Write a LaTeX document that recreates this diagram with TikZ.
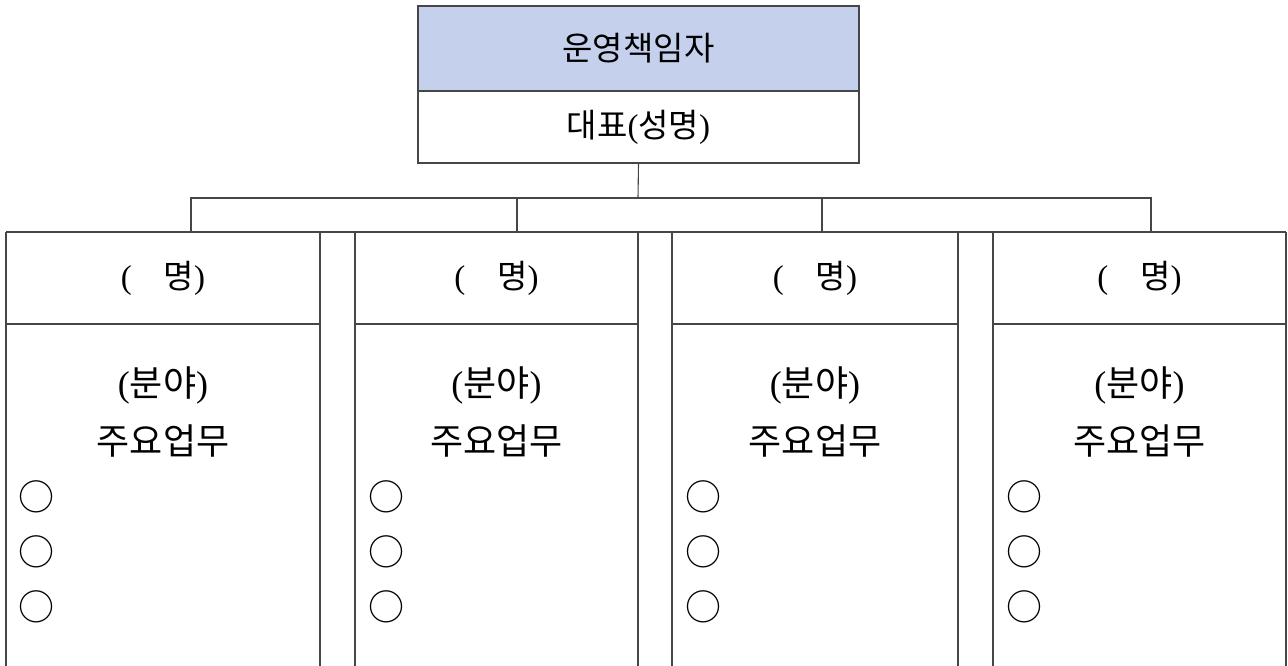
\documentclass[tikz,border=0pt]{standalone}
\usepackage{fontspec}
\setmainfont{Liberation Serif}
\newfontfamily\kr{Noto Sans CJK KR}
\definecolor{headblue}{RGB}{197,208,236}
\definecolor{linegray}{RGB}{70,70,70}
\begin{document}
\begin{tikzpicture}[x=1pt,y=-1pt,
  frame/.style={draw=linegray,line width=1.1pt},
  topcell/.style={frame,minimum width=441pt,inner sep=0pt,font=\fontsize{33}{33}\selectfont},
  hdrtext/.style={inner sep=0pt,font=\fontsize{33}{33}\selectfont},
  bodytext/.style={inner sep=0pt,font=\fontsize{36}{36}\selectfont},
  bullet/.style={inner sep=0pt,anchor=center,font=\kr\fontsize{36}{36}\selectfont},
  wire/.style={draw=linegray,line width=1.1pt}]
\useasboundingbox (0,0) rectangle (1288,665);
\clip (0,0) rectangle (1288,665);
% top box
\node[topcell,fill=headblue,minimum height=85pt] (tophead) at (638.5,48.5) {\kr 운영책임자};
\node[topcell,minimum height=72pt] (topbody) at (638.5,127) {{\kr 대표}({\kr 성명})};
% tree connectors
\coordinate (bus) at (638,198);
\coordinate (j1) at (191,198); \coordinate (j2) at (517,198);
\coordinate (j3) at (822,198); \coordinate (j4) at (1151,198);
\coordinate (d1) at (191,232); \coordinate (d2) at (517,232);
\coordinate (d3) at (822,232); \coordinate (d4) at (1151,232);
\draw[wire] (topbody.south) -- (bus);
\draw[wire] (d1) -- (j1) -- (j4) -- (d4);
\draw[wire] (j2) -- (d2);
\draw[wire] (j3) -- (d3);
% table top line
\coordinate (tl) at (6,232); \coordinate (tr) at (1286,232);
\draw[wire] (tl) -- (tr);
% columns
\foreach \i/\l/\r in {1/6/320, 2/355/638, 3/672/958, 4/993/1286}{
  \draw[wire] (\l,232) -- (\l,700);
  \draw[wire] (\r,232) -- (\r,700);
  \draw[wire] (\l,324) -- (\r,324);
  \node[hdrtext] (h\i) at ({(\l+\r)/2},278) {(\hspace{32pt}{\kr 명})};
  \node[bodytext] (f\i) at ({(\l+\r)/2},385) {({\kr 분야})};
  \node[bodytext] (w\i) at ({(\l+\r)/2},441) {\kr 주요업무};
  \node[bullet] (b\i a) at (\l+31,497) {○};
  \node[bullet] (b\i b) at (\l+31,552) {○};
  \node[bullet] (b\i c) at (\l+31,607) {○};
}
\end{tikzpicture}
\end{document}
